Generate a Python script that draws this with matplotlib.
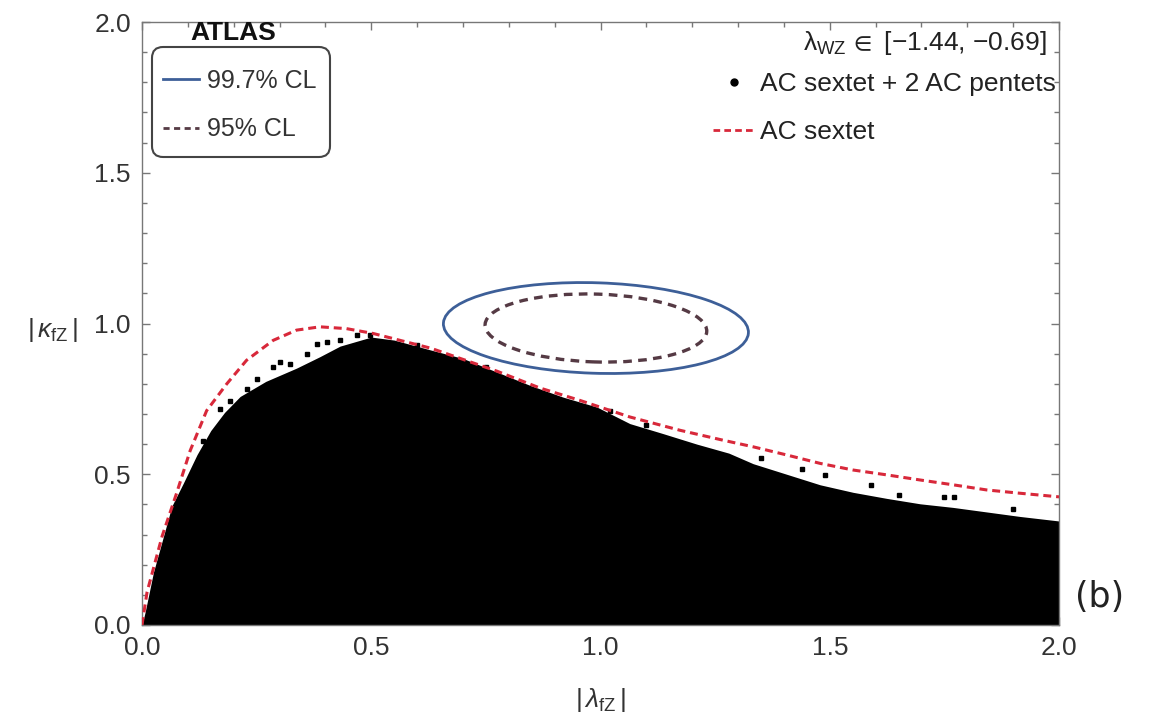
import numpy as np
import matplotlib
matplotlib.use("Agg")
import matplotlib.pyplot as plt
from matplotlib.patches import Ellipse, FancyBboxPatch
from matplotlib.lines import Line2D
from matplotlib.ticker import MultipleLocator
from matplotlib.transforms import IdentityTransform

plt.rcParams['font.family'] = ['Liberation Sans', 'DejaVu Sans']
plt.rcParams['mathtext.fontset'] = 'custom'
plt.rcParams['mathtext.rm'] = 'Liberation Sans'
plt.rcParams['mathtext.it'] = 'Liberation Sans:italic'
plt.rcParams['mathtext.bf'] = 'Liberation Sans:bold'
plt.rcParams['mathtext.fallback'] = 'stixsans'

# ---- data ----
# upper edge of the dense scan region (AC sextet + 2 AC pentets)
scan_lam = [0.0, 0.007, 0.025, 0.047, 0.065, 0.09, 0.12, 0.15, 0.18, 0.214, 0.27, 0.337,
            0.388, 0.432, 0.50, 0.55, 0.63, 0.70, 0.774, 0.846, 0.918, 0.992, 1.064, 1.136,
            1.21, 1.28, 1.333, 1.406, 1.479, 1.551, 1.624, 1.697, 1.769, 1.842, 1.915, 2.0]
scan_kap = [0.0, 0.044, 0.175, 0.295, 0.394, 0.47, 0.565, 0.645, 0.705, 0.758, 0.808, 0.852,
            0.89, 0.925, 0.955, 0.945, 0.912, 0.884, 0.839, 0.795, 0.756, 0.723, 0.668, 0.635,
            0.60, 0.57, 0.535, 0.50, 0.465, 0.44, 0.42, 0.402, 0.39, 0.375, 0.36, 0.345]
# isolated scan points above the dense edge
dots_lam = [0.133, 0.170, 0.192, 0.228, 0.250, 0.286, 0.301, 0.323, 0.359, 0.381, 0.403,
            0.432, 0.468, 0.497, 0.60, 0.75, 1.02, 1.10, 1.35, 1.44, 1.49, 1.59, 1.65, 1.75,
            1.77, 1.90]
dots_kap = [0.611, 0.716, 0.744, 0.783, 0.815, 0.856, 0.872, 0.865, 0.90, 0.933, 0.939,
            0.945, 0.962, 0.961, 0.93, 0.855, 0.71, 0.665, 0.553, 0.518, 0.498, 0.465, 0.432,
            0.426, 0.426, 0.385]
# AC sextet boundary
sext_lam = [0.0, 0.011, 0.044, 0.075, 0.105, 0.141, 0.185, 0.228, 0.286, 0.337, 0.388, 0.446,
            0.504, 0.63, 0.774, 0.868, 0.955, 1.064, 1.173, 1.267, 1.333, 1.406, 1.479, 1.551,
            1.624, 1.697, 1.769, 1.842, 1.915, 2.0]
sext_kap = [0.0, 0.109, 0.295, 0.435, 0.578, 0.711, 0.80, 0.878, 0.944, 0.978, 0.989, 0.983,
            0.967, 0.918, 0.842, 0.786, 0.745, 0.69, 0.646, 0.613, 0.591, 0.564, 0.536, 0.514,
            0.498, 0.481, 0.465, 0.448, 0.437, 0.425]
# ATLAS confidence-level contours (centre, full width, full height, tilt in deg)
cl_center = (0.99, 0.985)
cl997_size = (0.666, 0.30)
cl95_size = (0.484, 0.225)
cl_angle = -3.0

x_ticks = [0.0, 0.5, 1.0, 1.5, 2.0]
y_ticks = [0.0, 0.5, 1.0, 1.5, 2.0]

W, H = 1165, 720
fig = plt.figure(figsize=(W / 100, H / 100), dpi=100)
ax = fig.add_axes([142 / W, 95 / H, (1059 - 142) / W, (698 - 95) / H])
ax.set_xlim(0, 2)
ax.set_ylim(0, 2)

ax.fill_between(scan_lam, 0, scan_kap, color='black', linewidth=0, zorder=2)
ax.plot(dots_lam, dots_kap, 's', color='black', markersize=2.2, linestyle='none', zorder=2)
ax.plot(sext_lam, sext_kap, color='#d8283a', lw=2.2, dashes=(2.6, 1.6), zorder=3)

e1 = Ellipse(cl_center, cl997_size[0], cl997_size[1], angle=cl_angle, fill=False,
             edgecolor='#3d5f98', lw=2.0, zorder=4)
e2 = Ellipse(cl_center, cl95_size[0], cl95_size[1], angle=cl_angle, fill=False,
             edgecolor='#553a44', lw=2.4, linestyle=(0, (2.6, 1.9)), zorder=4)
ax.add_patch(e1)
ax.add_patch(e2)

# ticks
ax.set_xticks(x_ticks)
ax.set_yticks(y_ticks)
ax.set_xticklabels([f'{v:.1f}' for v in x_ticks])
ax.set_yticklabels([f'{v:.1f}' for v in y_ticks])
ax.xaxis.set_minor_locator(MultipleLocator(0.1))
ax.yaxis.set_minor_locator(MultipleLocator(0.1))
ax.tick_params(which='both', direction='in', top=True, right=True, color='#777777', width=1.0)
ax.tick_params(which='major', length=6, labelsize=19, labelcolor='#333333', pad=8)
ax.tick_params(which='minor', length=3.5)
for s in ax.spines.values():
    s.set_color('#777777')
    s.set_linewidth(1.0)

ax.set_xlabel(r'$|\,\mathit{λ}_{\mathrm{fZ}}\,|$', fontsize=19, color='#333333')
ax.xaxis.set_label_coords(0.5, -0.125)
ax.xaxis.label.set_va('center')
ax.set_ylabel(r'$|\,\mathit{κ}_{\mathrm{fZ}}\,|$', fontsize=19, color='#333333', rotation=0)
ax.yaxis.set_label_coords((78 - 142) / 917, 0.49)
ax.yaxis.label.set_ha('right')
ax.yaxis.label.set_va('center')

# left legend (ATLAS) with a separately drawn rounded frame
frame = FancyBboxPatch((152, H - 157), 178, 110,
                       boxstyle='round,pad=0,rounding_size=11',
                       transform=IdentityTransform(), facecolor='white',
                       edgecolor='#444444', linewidth=1.5, zorder=5)
fig.add_artist(frame)
h1 = Line2D([], [], color='#3d5f98', lw=2.0)
h2 = Line2D([], [], color='#553a44', lw=2.0, linestyle=(0, (2.2, 1.6)))
leg1 = fig.legend([h1, h2], ['99.7% CL', '95% CL'], loc='upper left',
                  bbox_to_anchor=(163 / W, 1 - 69 / H), fontsize=18, frameon=False,
                  handlelength=1.45, handletextpad=0.3, borderpad=0, labelspacing=0.98,
                  borderaxespad=0)
leg1.set_zorder(6)
for t in leg1.get_texts():
    t.set_color('#333333')
fig.text(233 / W, 1 - 33 / H, 'ATLAS', ha='center', va='center', fontsize=19,
         fontweight='bold', color='#111111')

# right legend
h3 = Line2D([], [], marker='o', color='black', markersize=5, linestyle='none')
h4 = Line2D([], [], color='#d8283a', lw=2.0, dashes=(2.4, 1.5))
leg2 = fig.legend([h3, h4], ['AC sextet + 2 AC pentets', 'AC sextet'], loc='upper left',
                  bbox_to_anchor=(713 / W, 1 - 72 / H), fontsize=19, frameon=False,
                  handlelength=1.6, handletextpad=0.2, borderpad=0, labelspacing=0.9,
                  borderaxespad=0)
for t in leg2.get_texts():
    t.set_color('#222222')
fig.text(1047 / W, 1 - 43 / H, r'$\mathrm{λ}_{\mathrm{WZ}}\,\in$ [−1.44, −0.69]', ha='right',
         va='center', fontsize=19, color='#222222')

fig.text(1100 / W, 1 - 597 / H, '(b)', ha='center', va='center', fontsize=25,
         color='#222222', family=['DejaVu Sans Condensed', 'DejaVu Sans'])

fig.savefig('out.png', dpi=100)
